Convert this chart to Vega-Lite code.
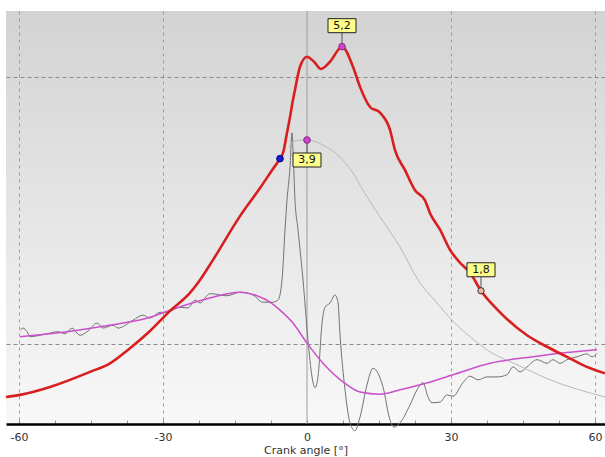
{
  "$schema": "https://vega.github.io/schema/vega-lite/v6.json",
  "autosize": "none",
  "padding": {"left": 6, "top": 11, "right": 0, "bottom": 33},
  "width": 599,
  "height": 413,
  "background": "#ffffff",
  "config": {
    "view": {"stroke": null, "fill": {"gradient": "linear", "x1": 0, "y1": 0, "x2": 0, "y2": 1, "stops": [{"offset": 0, "color": "#d3d3d3"}, {"offset": 1, "color": "#f8f8f8"}]}},
    "font": "DejaVu Sans"
  },
  "datasets": {
    "red": [
      {"angle": -62.71, "value": 0.32}, {"angle": -59.79, "value": 0.35}, {"angle": -53.54, "value": 0.46}, {"angle": -45.21, "value": 0.67},
      {"angle": -41.04, "value": 0.79}, {"angle": -36.88, "value": 1.0}, {"angle": -32.71, "value": 1.24}, {"angle": -28.54, "value": 1.52},
      {"angle": -24.38, "value": 1.77}, {"angle": -22.29, "value": 1.95}, {"angle": -19.58, "value": 2.23}, {"angle": -13.96, "value": 2.84},
      {"angle": -9.79, "value": 3.23}, {"angle": -7.08, "value": 3.5}, {"angle": -5.63, "value": 3.64}, {"angle": -5.0, "value": 3.72},
      {"angle": -4.17, "value": 4.0}, {"angle": -3.54, "value": 4.22}, {"angle": -2.92, "value": 4.46}, {"angle": -2.5, "value": 4.6},
      {"angle": -1.46, "value": 4.92}, {"angle": 0, "value": 5.06}, {"angle": 1.46, "value": 4.99}, {"angle": 2.92, "value": 4.89},
      {"angle": 4.79, "value": 4.99}, {"angle": 7.29, "value": 5.2}, {"angle": 9.58, "value": 4.92}, {"angle": 11.04, "value": 4.64},
      {"angle": 13.13, "value": 4.36}, {"angle": 15.21, "value": 4.28}, {"angle": 17.29, "value": 4.04}, {"angle": 18.33, "value": 3.76},
      {"angle": 20.42, "value": 3.48}, {"angle": 22.5, "value": 3.2}, {"angle": 24.58, "value": 3.06}, {"angle": 25.63, "value": 2.88},
      {"angle": 27.71, "value": 2.65}, {"angle": 29.79, "value": 2.37}, {"angle": 31.88, "value": 2.19}, {"angle": 33.96, "value": 2.05},
      {"angle": 36.25, "value": 1.8}, {"angle": 40.21, "value": 1.5}, {"angle": 45.83, "value": 1.18}, {"angle": 50.0, "value": 1.02},
      {"angle": 54.17, "value": 0.88}, {"angle": 58.33, "value": 0.74}, {"angle": 62.08, "value": 0.65}
    ],
    "lightgray": [
      {"angle": -3.75, "value": 3.8}, {"angle": -2.5, "value": 3.89}, {"angle": 0, "value": 3.9}, {"angle": 3.33, "value": 3.83},
      {"angle": 6.88, "value": 3.66}, {"angle": 9.58, "value": 3.44}, {"angle": 11.67, "value": 3.2}, {"angle": 15.21, "value": 2.83},
      {"angle": 19.38, "value": 2.41}, {"angle": 23.13, "value": 1.95}, {"angle": 27.08, "value": 1.63}, {"angle": 30.21, "value": 1.39},
      {"angle": 33.96, "value": 1.16}, {"angle": 38.13, "value": 0.95}, {"angle": 43.75, "value": 0.77}, {"angle": 50.63, "value": 0.56},
      {"angle": 62.08, "value": 0.32}
    ],
    "magenta": [
      {"angle": -59.79, "value": 1.16}, {"angle": -53.54, "value": 1.2}, {"angle": -43.13, "value": 1.3}, {"angle": -32.71, "value": 1.43},
      {"angle": -28.54, "value": 1.53}, {"angle": -20.21, "value": 1.7}, {"angle": -13.96, "value": 1.78}, {"angle": -10.83, "value": 1.74},
      {"angle": -7.71, "value": 1.64}, {"angle": -5.63, "value": 1.53}, {"angle": -2.92, "value": 1.35}, {"angle": 0, "value": 1.07},
      {"angle": 3.33, "value": 0.79}, {"angle": 7.5, "value": 0.53}, {"angle": 11.04, "value": 0.39}, {"angle": 15.21, "value": 0.36},
      {"angle": 19.38, "value": 0.42}, {"angle": 24.17, "value": 0.5}, {"angle": 30.42, "value": 0.63}, {"angle": 38.13, "value": 0.79},
      {"angle": 47.08, "value": 0.88}, {"angle": 52.71, "value": 0.93}, {"angle": 60.42, "value": 0.98}
    ],
    "darkgray": [
      {"angle": -59.79, "value": 1.25}, {"angle": -59.17, "value": 1.28}, {"angle": -58.33, "value": 1.23}, {"angle": -57.71, "value": 1.16},
      {"angle": -55.63, "value": 1.18}, {"angle": -54.17, "value": 1.2}, {"angle": -51.88, "value": 1.23}, {"angle": -50.42, "value": 1.2},
      {"angle": -48.96, "value": 1.28}, {"angle": -47.29, "value": 1.18}, {"angle": -45.63, "value": 1.24}, {"angle": -43.75, "value": 1.35},
      {"angle": -42.5, "value": 1.28}, {"angle": -40.42, "value": 1.32}, {"angle": -39.38, "value": 1.28}, {"angle": -36.25, "value": 1.39},
      {"angle": -34.17, "value": 1.46}, {"angle": -32.71, "value": 1.42}, {"angle": -30.63, "value": 1.5}, {"angle": -29.17, "value": 1.5},
      {"angle": -26.46, "value": 1.57}, {"angle": -24.79, "value": 1.56}, {"angle": -23.33, "value": 1.67}, {"angle": -22.29, "value": 1.63},
      {"angle": -20.21, "value": 1.76}, {"angle": -16.67, "value": 1.73}, {"angle": -13.96, "value": 1.78}, {"angle": -11.25, "value": 1.74},
      {"angle": -9.17, "value": 1.64}, {"angle": -7.29, "value": 1.64}, {"angle": -6.04, "value": 1.67}, {"angle": -5.21, "value": 1.95},
      {"angle": -4.58, "value": 2.65}, {"angle": -4.17, "value": 3.06}, {"angle": -3.54, "value": 3.52}, {"angle": -3.13, "value": 4.0},
      {"angle": -2.92, "value": 3.76}, {"angle": -2.5, "value": 3.06}, {"angle": -1.88, "value": 2.65}, {"angle": -0.83, "value": 1.95},
      {"angle": 0.21, "value": 1.11}, {"angle": 1.04, "value": 0.6}, {"angle": 1.67, "value": 0.45}, {"angle": 2.29, "value": 0.6},
      {"angle": 3.13, "value": 1.35}, {"angle": 3.75, "value": 1.57}, {"angle": 4.79, "value": 1.63}, {"angle": 5.83, "value": 1.74},
      {"angle": 6.46, "value": 1.64}, {"angle": 6.88, "value": 1.18}, {"angle": 7.92, "value": 0.42}, {"angle": 8.96, "value": -0.04},
      {"angle": 10.0, "value": -0.15}, {"angle": 11.04, "value": 0.04}, {"angle": 12.5, "value": 0.49}, {"angle": 13.75, "value": 0.72},
      {"angle": 14.79, "value": 0.65}, {"angle": 15.83, "value": 0.46}, {"angle": 17.29, "value": 0.0}, {"angle": 18.13, "value": -0.1},
      {"angle": 19.38, "value": -0.04}, {"angle": 21.46, "value": 0.21}, {"angle": 22.92, "value": 0.42}, {"angle": 24.17, "value": 0.52},
      {"angle": 25.21, "value": 0.32}, {"angle": 26.04, "value": 0.24}, {"angle": 27.71, "value": 0.25}, {"angle": 29.17, "value": 0.35},
      {"angle": 30.42, "value": 0.33}, {"angle": 32.5, "value": 0.52}, {"angle": 33.96, "value": 0.61}, {"angle": 35.63, "value": 0.56},
      {"angle": 37.5, "value": 0.6}, {"angle": 39.58, "value": 0.6}, {"angle": 41.67, "value": 0.63}, {"angle": 42.92, "value": 0.74},
      {"angle": 44.38, "value": 0.67}, {"angle": 45.83, "value": 0.74}, {"angle": 47.92, "value": 0.84}, {"angle": 50.0, "value": 0.79},
      {"angle": 51.25, "value": 0.84}, {"angle": 52.71, "value": 0.79}, {"angle": 54.17, "value": 0.84}, {"angle": 56.25, "value": 0.88},
      {"angle": 58.33, "value": 0.92}, {"angle": 59.38, "value": 0.88}, {"angle": 60.42, "value": 0.93}
    ],
    "labels": [
      {"angle": 7.29, "value": 5.2, "label": "5,2", "place": "above", "kind": "magenta"},
      {"angle": 0, "value": 3.9, "label": "3,9", "place": "below", "kind": "magenta"},
      {"angle": 36.25, "value": 1.8, "label": "1,8", "place": "above", "kind": "peach"}
    ],
    "marker": [
      {"angle": -5.63, "value": 3.64}
    ],
    "zero": [{"angle": 0}]
  },
  "encoding": {
    "x": {"field": "angle", "type": "quantitative",
      "scale": {"domain": [-62.71, 62.08], "nice": false, "zero": false},
      "axis": {
        "title": "Crank angle [°]",
        "values": [-60, -52.5, -45, -37.5, -30, -22.5, -15, -7.5, 0, 7.5, 15, 22.5, 30, 37.5, 45, 52.5, 60],
        "labelExpr": "datum.value % 30 == 0 ? '' + datum.value : ''",
        "grid": true,
        "gridDash": [3, 4],
        "gridColor": "#9a9a9a",
        "gridOpacity": {"condition": {"test": "datum.value % 30 == 0 && datum.value != 0", "value": 1}, "value": 0},
        "domainColor": "#000000",
        "domainWidth": 2.5,
        "tickSize": -4,
        "tickColor": "#909090",
        "labelPadding": 11,
        "labelFontSize": 11,
        "labelColor": "#333333",
        "labelFont": "DejaVu Sans",
        "titleFont": "DejaVu Sans",
        "titleFontSize": 11,
        "titleFontWeight": "normal",
        "titleColor": "#333333",
        "titlePadding": 2
      }
    }
  },
  "layer": [
    {
      "data": {"name": "zero"},
      "mark": {"type": "rule", "color": "#9c9c9c", "strokeWidth": 1},
      "encoding": {
        "y": {"datum": 5.697, "type": "quantitative",
          "scale": {"domain": [-0.056, 5.697], "nice": false, "zero": false},
          "axis": {"values": [1.06, 4.78], "labels": false, "ticks": false, "domain": false, "title": null, "grid": true, "gridDash": [4, 3], "gridColor": "#8a8a8a"}
        },
        "y2": {"datum": -0.056}
      }
    },
    {
      "data": {"name": "darkgray"},
      "mark": {"type": "line", "color": "#727272", "strokeWidth": 1, "clip": false, "interpolate": "monotone"},
      "encoding": {"y": {"field": "value", "type": "quantitative"}}
    },
    {
      "data": {"name": "lightgray"},
      "mark": {"type": "line", "color": "#b9b9b9", "strokeWidth": 1, "interpolate": "monotone"},
      "encoding": {"y": {"field": "value", "type": "quantitative"}}
    },
    {
      "data": {"name": "magenta"},
      "mark": {"type": "line", "color": "#cc4fcc", "strokeWidth": 1.5, "interpolate": "monotone"},
      "encoding": {"y": {"field": "value", "type": "quantitative"}}
    },
    {
      "data": {"name": "red"},
      "mark": {"type": "line", "color": "#d81e1e", "strokeWidth": 2.6, "interpolate": "monotone"},
      "encoding": {"y": {"field": "value", "type": "quantitative"}}
    },
    {
      "data": {"name": "labels"},
      "transform": [{"filter": "datum.place == 'above'"}],
      "mark": {"type": "rule", "color": "#555555", "strokeWidth": 1, "y2Offset": -14},
      "encoding": {"y": {"field": "value", "type": "quantitative"}, "y2": {"field": "value"}}
    },
    {
      "data": {"name": "labels"},
      "transform": [{"filter": "datum.place == 'below'"}],
      "mark": {"type": "rule", "color": "#555555", "strokeWidth": 1, "y2Offset": 13},
      "encoding": {"y": {"field": "value", "type": "quantitative"}, "y2": {"field": "value"}}
    },
    {
      "data": {"name": "marker"},
      "mark": {"type": "point", "shape": "circle", "filled": true, "fill": "#1a1ad0", "stroke": "#0a0a80", "strokeWidth": 1, "size": 45, "opacity": 1},
      "encoding": {"y": {"field": "value", "type": "quantitative"}}
    },
    {
      "data": {"name": "labels"},
      "transform": [{"filter": "datum.kind == 'magenta'"}],
      "mark": {"type": "point", "shape": "circle", "filled": true, "fill": "#cc44cc", "stroke": "#8a2a8a", "strokeWidth": 1, "size": 45, "opacity": 1},
      "encoding": {"y": {"field": "value", "type": "quantitative"}}
    },
    {
      "data": {"name": "labels"},
      "transform": [{"filter": "datum.kind == 'peach'"}],
      "mark": {"type": "point", "shape": "circle", "filled": true, "fill": "#f4b69a", "stroke": "#333333", "strokeWidth": 1, "size": 40, "opacity": 1},
      "encoding": {"y": {"field": "value", "type": "quantitative"}}
    },
    {
      "data": {"name": "labels"},
      "transform": [{"filter": "datum.place == 'above'"}],
      "mark": {"type": "point", "shape": "M-1,-0.5H1V0.5H-1Z", "size": 784, "filled": true, "fill": "#fdfd8a", "stroke": "#222222", "strokeWidth": 1, "opacity": 1, "yOffset": -21},
      "encoding": {"y": {"field": "value", "type": "quantitative"}}
    },
    {
      "data": {"name": "labels"},
      "transform": [{"filter": "datum.place == 'below'"}],
      "mark": {"type": "point", "shape": "M-1,-0.5H1V0.5H-1Z", "size": 784, "filled": true, "fill": "#fdfd8a", "stroke": "#222222", "strokeWidth": 1, "opacity": 1, "yOffset": 20},
      "encoding": {"y": {"field": "value", "type": "quantitative"}}
    },
    {
      "data": {"name": "labels"},
      "transform": [{"filter": "datum.place == 'above'"}],
      "mark": {"type": "text", "font": "DejaVu Sans", "fontSize": 11, "color": "#111111", "align": "center", "baseline": "middle", "yOffset": -21},
      "encoding": {"y": {"field": "value", "type": "quantitative"}, "text": {"field": "label"}}
    },
    {
      "data": {"name": "labels"},
      "transform": [{"filter": "datum.place == 'below'"}],
      "mark": {"type": "text", "font": "DejaVu Sans", "fontSize": 11, "color": "#111111", "align": "center", "baseline": "middle", "yOffset": 20},
      "encoding": {"y": {"field": "value", "type": "quantitative"}, "text": {"field": "label"}}
    }
  ]
}
